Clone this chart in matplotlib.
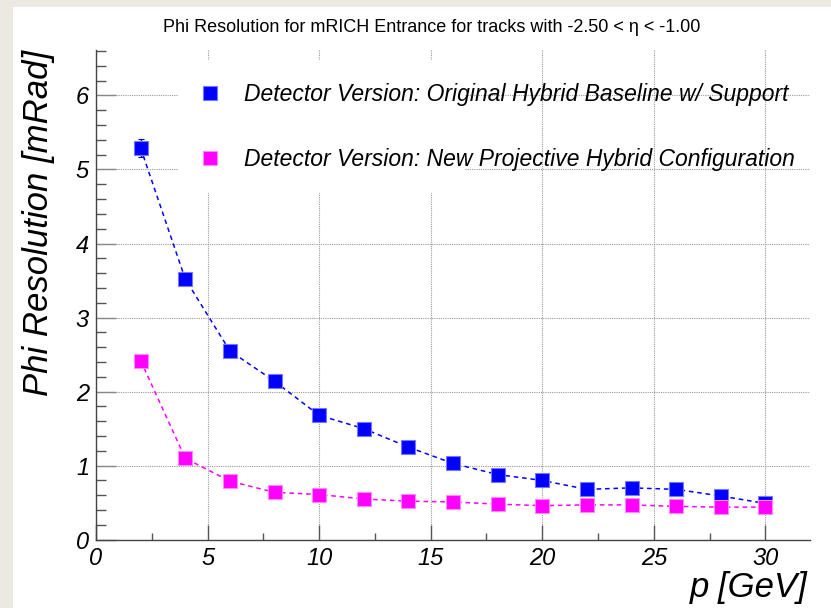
import numpy as np
import matplotlib
matplotlib.use("Agg")
import matplotlib.pyplot as plt
from matplotlib.lines import Line2D
from matplotlib.patches import Rectangle

plt.rcParams['font.family'] = ['Liberation Sans', 'DejaVu Sans']

# momentum bins [GeV]
p = [2, 4, 6, 8, 10, 12, 14, 16, 18, 20, 22, 24, 26, 28, 30]

# phi resolution [mRad]
res_baseline = [5.29, 3.52, 2.55, 2.14, 1.68, 1.50, 1.25, 1.03, 0.88, 0.80, 0.68, 0.70, 0.68, 0.59, 0.49]
err_baseline = [0.12, 0.05, 0.04, 0.03, 0.03, 0.03, 0.02, 0.02, 0.02, 0.02, 0.02, 0.02, 0.02, 0.02, 0.02]
res_projective = [2.42, 1.10, 0.79, 0.64, 0.61, 0.55, 0.52, 0.51, 0.48, 0.46, 0.47, 0.47, 0.45, 0.44, 0.44]
err_projective = [0.04, 0.03, 0.02, 0.02, 0.02, 0.02, 0.02, 0.02, 0.02, 0.02, 0.02, 0.02, 0.02, 0.02, 0.02]

labels = ["Detector Version: Original Hybrid Baseline w/ Support",
          "Detector Version: New Projective Hybrid Configuration"]
title = "Phi Resolution for mRICH Entrance for tracks with -2.50 < \u03b7 < -1.00"

W, H = 831, 608
fig = plt.figure(figsize=(W / 100, H / 100), dpi=100)
fig.patch.set_facecolor('#ece9e2')
fig.add_artist(Rectangle((13 / W, 0), 1, 1 - 7 / H, transform=fig.transFigure,
                         facecolor='white', edgecolor='none', zorder=-10))

ax = fig.add_axes([96 / W, (H - 539.7) / H, (810 - 96) / W, (539.7 - 49.5) / H])
ax.set_facecolor('none')

ax.set_xlim(0, 32.0)
ax.set_ylim(0, 6.62)

# legend background box (covers grid like the ROOT TLegend)
ax.add_patch(Rectangle((0.115, 0.707), 0.402, 0.272, transform=ax.transAxes,
                       facecolor='white', edgecolor='none', zorder=1))

msize = 9.4
line_kw = dict(linestyle=(0, (3, 2.5)), linewidth=1.1, marker='s', markersize=msize,
               mew=0.8, capsize=2, elinewidth=1.0, zorder=3)
ax.errorbar(p, res_baseline, yerr=err_baseline, color='#0000ff', mfc='#0000ff',
            mec='#7777ff', ecolor='#0000cc', **line_kw)
ax.errorbar(p, res_projective, yerr=err_projective, color='#ff00ff', mfc='#ff00ff',
            mec='#ff88ff', ecolor='#dd00dd', **line_kw)

ax.set_xticks([0, 5, 10, 15, 20, 25, 30])
ax.set_xticks(np.arange(0, 32.01, 2.5), minor=True)
ax.set_yticks([0, 1, 2, 3, 4, 5, 6])
ax.set_yticks(np.arange(0, 6.62, 0.2), minor=True)

ax.set_axisbelow(True)
ax.grid(True, which='major', linestyle=(0, (1, 1)), linewidth=0.8, color='#9a9a9a')

for s in ['top', 'right']:
    ax.spines[s].set_visible(False)
for s in ['left', 'bottom']:
    ax.spines[s].set_color('#444444')
    ax.spines[s].set_linewidth(1.0)

ax.tick_params(axis='x', which='major', direction='in', length=10.8, width=1, color='#555555', pad=5, labelsize=17)
ax.tick_params(axis='x', which='minor', direction='in', length=5, width=1, color='#555555')
ax.tick_params(axis='y', which='major', direction='in', length=14.4, width=1, color='#888888', pad=5, labelsize=17)
ax.tick_params(axis='y', which='minor', direction='in', length=7.2, width=1, color='#555555')
for t in ax.get_xticklabels() + ax.get_yticklabels():
    t.set_fontstyle('italic')

ax.set_xlabel("p [GeV]", fontsize=25, fontstyle='italic', loc='right')
ax.xaxis.set_label_coords(0.997, -0.064)
ax.set_ylabel("Phi Resolution [mRad]", fontsize=25, fontstyle='italic', loc='top')
ax.yaxis.set_label_coords(-0.057, 1.0)

fig.text(432 / W, 1 - 27 / H, title, fontsize=13, ha='center', va='center')

handles = [Line2D([], [], linestyle='none', marker='s', markersize=msize, color='#0000ff', mec='#7777ff', mew=0.8),
           Line2D([], [], linestyle='none', marker='s', markersize=msize, color='#ff00ff', mec='#ff88ff', mew=0.8)]
ax.legend(handles, labels, loc='upper left', bbox_to_anchor=(198.5 / W, 1 - 83 / H),
          bbox_transform=fig.transFigure, frameon=False, borderpad=0, borderaxespad=0,
          handlelength=1.0, handletextpad=1.0, labelspacing=1.82,
          prop={'size': 16.5, 'style': 'italic'})

fig.savefig("out.png", dpi=100)
